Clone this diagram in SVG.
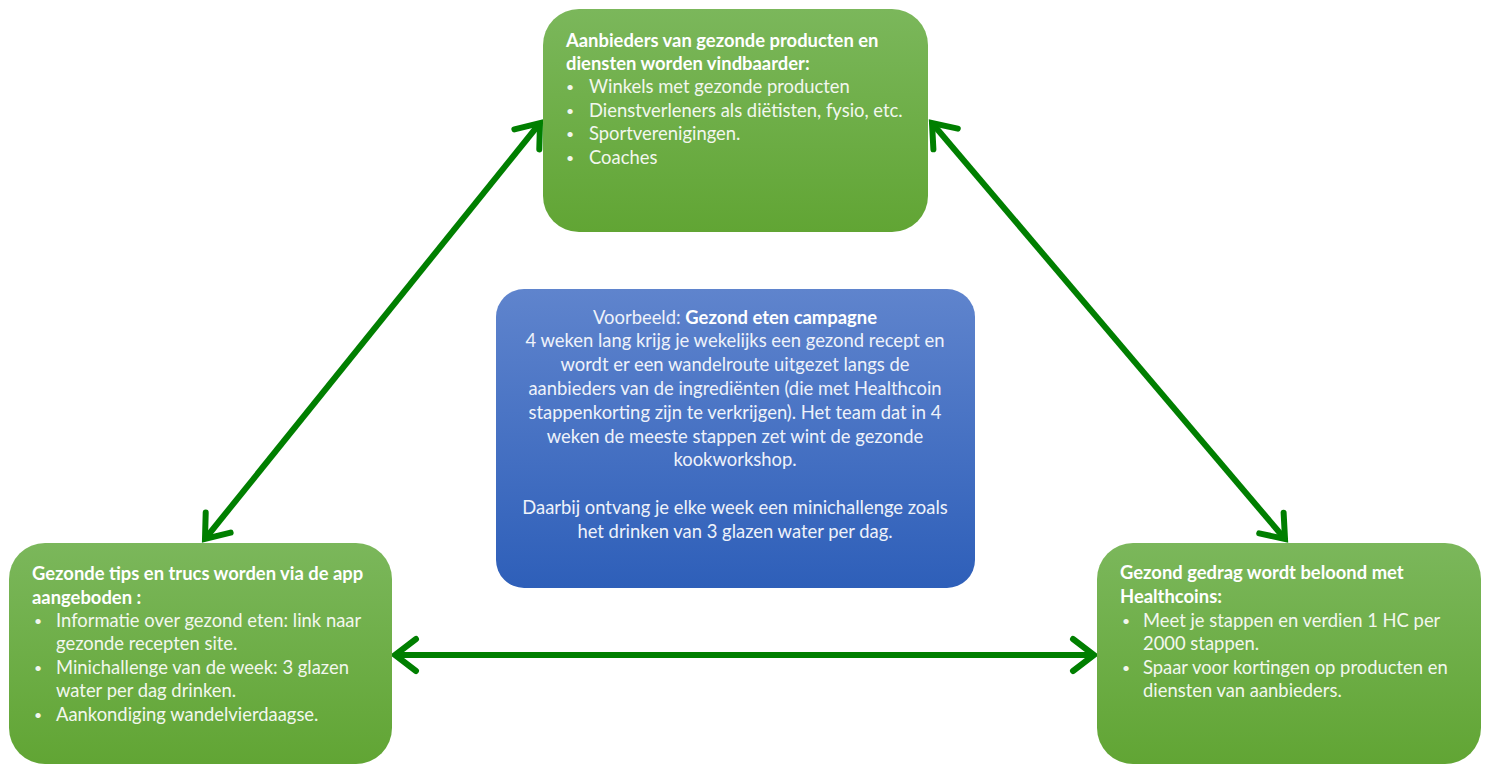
<svg xmlns="http://www.w3.org/2000/svg" width="1488" height="767" viewBox="0 0 1488 767">
<defs>
<linearGradient id="gGreen" x1="0" y1="0" x2="0" y2="1">
<stop offset="0" stop-color="#7bb75b"/>
<stop offset="1" stop-color="#61a534"/>
</linearGradient>
<linearGradient id="gBlue" x1="0" y1="0" x2="0" y2="1">
<stop offset="0" stop-color="#5f84cd"/>
<stop offset="1" stop-color="#2e5fb9"/>
</linearGradient>
<marker id="arr" markerUnits="userSpaceOnUse" viewBox="-30 -22 36 44" markerWidth="36" markerHeight="44" refX="0" refY="0" orient="auto-start-reverse">
<path d="M-21,-16 L0,0 L-21,16" fill="none" stroke="#007f00" stroke-width="6" stroke-linecap="round" stroke-linejoin="miter"/>
</marker>
</defs>
<style>
.node{fill:url(#gGreen);}
.blue{fill:url(#gBlue);}
text{font-family:"Lato","Open Sans","Liberation Sans",sans-serif;font-size:18.4px;fill:#ffffff;}
.b{font-weight:bold;}
.it{fill:#f2f7ee;}
.bu{fill:#f2f7ee;font-size:14px;}
.c{text-anchor:middle;fill:#eef2fa;}
.conn{stroke:#007f00;stroke-width:6;fill:none;marker-start:url(#arr);marker-end:url(#arr);}
</style>
<rect width="1488" height="767" fill="#ffffff"/>
<g id="connectors">
<line class="conn" x1="540" y1="123" x2="205" y2="539"/>
<line class="conn" x1="932" y1="123" x2="1285" y2="539"/>
<line class="conn" x1="395" y1="655" x2="1094" y2="655"/>
</g>
<g id="node-top">
<rect class="node" x="543" y="9" width="385" height="223" rx="36" ry="36"/>
<text class="b" x="566" y="47">Aanbieders van gezonde producten en</text>
<text class="b" x="566" y="70">diensten worden vindbaarder:</text>
<text class="bu" x="566" y="92">•</text><text class="it" x="589" y="93">Winkels met gezonde producten</text>
<text class="bu" x="566" y="116">•</text><text class="it" x="589" y="117">Dienstverleners als diëtisten, fysio, etc.</text>
<text class="bu" x="566" y="139">•</text><text class="it" x="589" y="140">Sportverenigingen.</text>
<text class="bu" x="566" y="163">•</text><text class="it" x="589" y="164">Coaches</text>
</g>
<g id="node-center">
<rect class="blue" x="496" y="289" width="479" height="299" rx="28" ry="28"/>
<text class="c" x="735" y="324">Voorbeeld: <tspan class="b" fill="#ffffff">Gezond eten campagne</tspan></text>
<text class="c" x="735" y="347">4 weken lang krijg je wekelijks een gezond recept en</text>
<text class="c" x="735" y="371">wordt er een wandelroute uitgezet langs de</text>
<text class="c" x="735" y="395">aanbieders van de ingrediënten (die met Healthcoin</text>
<text class="c" x="735" y="419">stappenkorting zijn te verkrijgen). Het team dat in 4</text>
<text class="c" x="735" y="443">weken de meeste stappen zet wint de gezonde</text>
<text class="c" x="735" y="466">kookworkshop.</text>
<text class="c" x="735" y="514">Daarbij ontvang je elke week een minichallenge zoals</text>
<text class="c" x="735" y="538">het drinken van 3 glazen water per dag.</text>
</g>
<g id="node-left">
<rect class="node" x="9" y="543" width="383" height="221" rx="36" ry="36"/>
<text class="b" x="32" y="580">Gezonde tips en trucs worden via de app</text>
<text class="b" x="32" y="604">aangeboden :</text>
<text class="bu" x="34" y="626">•</text><text class="it" x="56" y="627">Informatie over gezond eten: link naar</text>
<text class="it" x="56" y="650">gezonde recepten site.</text>
<text class="bu" x="34" y="673">•</text><text class="it" x="56" y="674">Minichallenge van de week: 3 glazen</text>
<text class="it" x="56" y="697">water per dag drinken.</text>
<text class="bu" x="34" y="720">•</text><text class="it" x="56" y="721">Aankondiging wandelvierdaagse.</text>
</g>
<g id="node-right">
<rect class="node" x="1097" y="543" width="384" height="221" rx="36" ry="36"/>
<text class="b" x="1120" y="579">Gezond gedrag wordt beloond met</text>
<text class="b" x="1120" y="603">Healthcoins:</text>
<text class="bu" x="1122" y="626">•</text><text class="it" x="1143" y="627">Meet je stappen en verdien 1 HC per</text>
<text class="it" x="1143" y="650">2000 stappen.</text>
<text class="bu" x="1122" y="673">•</text><text class="it" x="1143" y="674">Spaar voor kortingen op producten en</text>
<text class="it" x="1143" y="697">diensten van aanbieders.</text>
</g>
</svg>
